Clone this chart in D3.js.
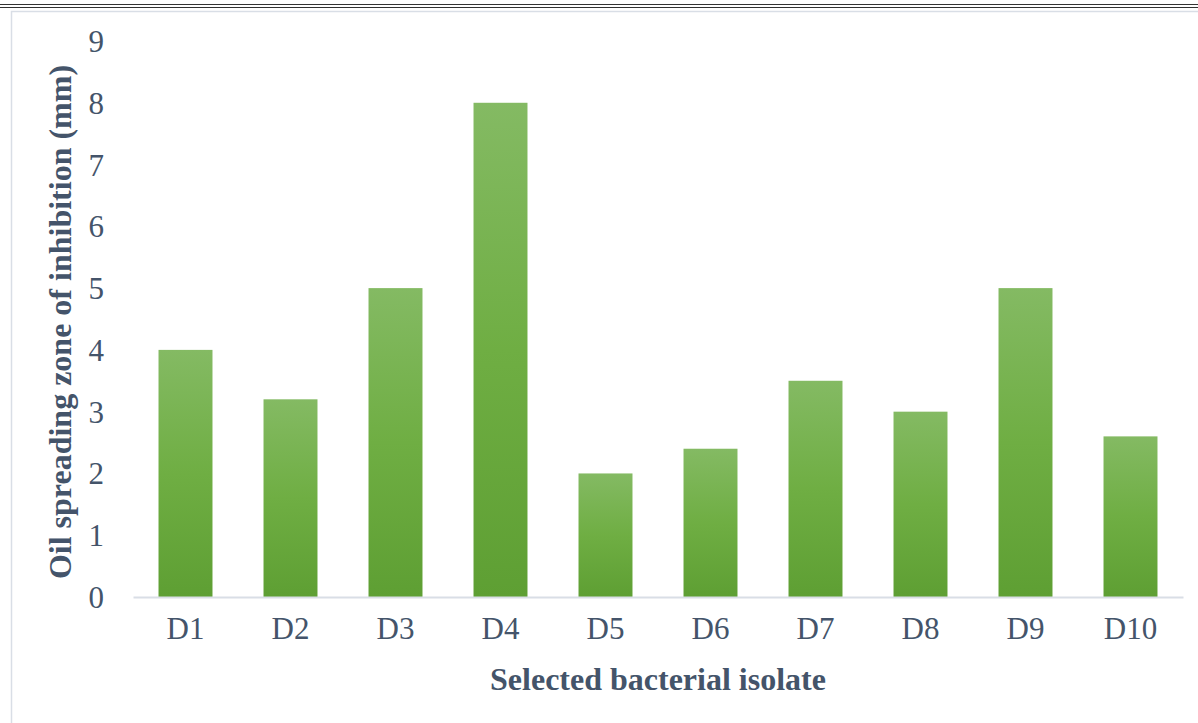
<!DOCTYPE html>
<meta charset="utf-8">
<style>
    body { margin: 0; background: #fff; }
    .tick text { fill: #44546a; font-family: 'Liberation Serif', 'Times New Roman', serif; font-size: 31px; }
    .title { fill: #44546a; font-family: 'Liberation Serif', 'Times New Roman', serif; font-size: 32px; font-weight: bold; }
</style>
<svg width="1198" height="723"></svg>
<script src="https://d3js.org/d3.v7.min.js"></script>
<script>

    var isolates = ["D1", "D2", "D3", "D4", "D5", "D6", "D7", "D8", "D9", "D10"];
    var zoneValues = [4, 3.2, 5, 8, 2, 2.4, 3.5, 3, 5, 2.6];
    var yTicks = [0, 1, 2, 3, 4, 5, 6, 7, 8, 9];

    var svg = d3.select("svg"),
        margin = {top: 41, right: 15, bottom: 126, left: 133},
        width = +svg.attr("width") - margin.left - margin.right,
        height = +svg.attr("height") - margin.top - margin.bottom;

    // page rules at the top and chart frame
    svg.append("line").attr("x1", 0).attr("x2", 1198).attr("y1", 4.5).attr("y2", 4.5)
        .attr("stroke", "#333").attr("stroke-width", 1.2);
    svg.append("line").attr("x1", 0).attr("x2", 1198).attr("y1", 7.5).attr("y2", 7.5)
        .attr("stroke", "#333").attr("stroke-width", 1.2);
    svg.append("rect").attr("x", 11.5).attr("y", 11.5).attr("width", 1200).attr("height", 720)
        .attr("fill", "none").attr("stroke", "#d9dee6").attr("stroke-width", 1.5);

    var defs = svg.append("defs");
    var grad = defs.append("linearGradient").attr("id", "barGrad")
        .attr("x1", 0).attr("y1", 0).attr("x2", 0).attr("y2", 1);
    grad.append("stop").attr("offset", "0%").attr("stop-color", "#84ba63");
    grad.append("stop").attr("offset", "50%").attr("stop-color", "#6fae43");
    grad.append("stop").attr("offset", "100%").attr("stop-color", "#5e9f33");

    var g = svg.append("g").attr("transform", "translate(" + margin.left + "," + margin.top + ")");

    var x = d3.scaleBand().domain(isolates).range([0, width]).paddingInner(0.486).paddingOuter(0.243);
    var y = d3.scaleLinear().domain([0, 9]).range([height, 0]);

    g.selectAll(".bar")
        .data(zoneValues)
        .enter().append("rect")
        .attr("class", "bar")
        .attr("x", function(d, i) { return x(isolates[i]); })
        .attr("y", function(d) { return y(d); })
        .attr("width", x.bandwidth())
        .attr("height", function(d) { return height - y(d); })
        .attr("fill", "url(#barGrad)");

    var yAxis = g.append("g")
        .call(d3.axisLeft(y).tickValues(yTicks).tickSize(0).tickPadding(29).tickFormat(d3.format("d")));
    yAxis.select(".domain").remove();
    yAxis.selectAll("text").attr("dy", "0.34em");

    var xAxis = g.append("g")
        .attr("transform", "translate(0," + height + ")")
        .call(d3.axisBottom(x).tickSize(0).tickPadding(20));
    xAxis.select(".domain").attr("stroke", "#d9dee6").attr("stroke-width", 2);
    xAxis.selectAll("text").attr("dy", "0.71em");

    svg.append("text")
        .attr("class", "title")
        .attr("text-anchor", "middle")
        .attr("x", margin.left + width / 2)
        .attr("y", 690)
        .text("Selected bacterial isolate");

    svg.append("text")
        .attr("class", "title")
        .attr("text-anchor", "middle")
        .attr("transform", "translate(71,322) rotate(-90)")
        .text("Oil spreading zone of inhibition (mm)");

</script>
